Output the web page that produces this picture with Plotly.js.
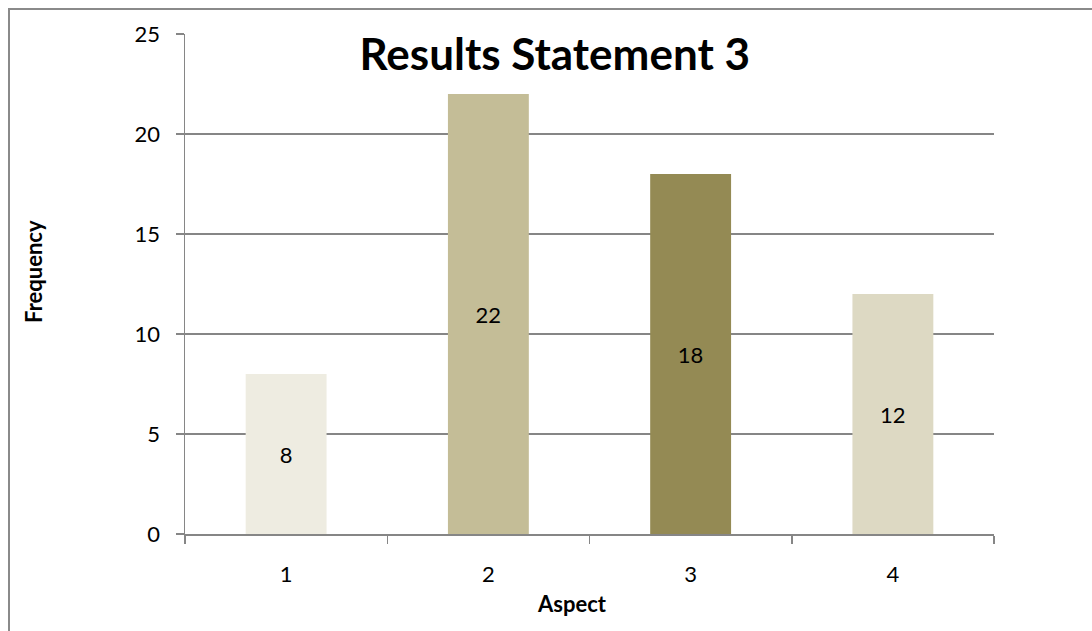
<!DOCTYPE html>
<html>
<head>
<meta charset="utf-8">
<script src="https://cdn.plot.ly/plotly-3.0.1.min.js"></script>
<style>
html,body{margin:0;padding:0;background:#fff;overflow:hidden;}
#frame{position:absolute;left:8px;top:8px;width:1200px;height:700px;border-left:2px solid #8a8a8a;border-top:2px solid #8a8a8a;pointer-events:none;z-index:5;}
#chart{position:absolute;left:0;top:0;width:1092px;height:631px;}
</style>
</head>
<body>
<div id="chart"></div>
<div id="frame"></div>
<script>
const categories = ["1", "2", "3", "4"];
const frequency = [8, 22, 18, 12];
const barColors = ["#EEECE1", "#C4BD97", "#948A54", "#DDD9C3"];
const yTicks = [0, 5, 10, 15, 20, 25];

const FONT = "Lato, 'Open Sans', sans-serif";

const trace = {
  type: "bar",
  x: categories,
  y: frequency,
  marker: {color: barColors, line: {width: 0}},
  text: frequency.map(String),
  textposition: "inside",
  insidetextanchor: "middle",
  textangle: 0,
  textfont: {family: FONT, size: 22, color: "#000"},
  hoverinfo: "x+y"
};

const layout = {
  width: 1092,
  height: 631,
  margin: {l: 185, r: 98, t: 34, b: 97, pad: 0},
  paper_bgcolor: "#fff",
  plot_bgcolor: "#fff",
  showlegend: false,
  bargap: 0.6,
  title: {
    text: "<b>Results Statement 3</b>",
    font: {family: FONT, size: 44, color: "#000"},
    x: 0.508, xanchor: "center",
    y: 0.913, yanchor: "middle", yref: "container"
  },
  xaxis: {
    type: "category",
    tickson: "boundaries",
    ticks: "outside",
    ticklen: 8,
    tickcolor: "#868686",
    tickwidth: 1.5,
    showline: true,
    linecolor: "#868686",
    linewidth: 1.5,
    showgrid: false,
    tickfont: {family: FONT, size: 22, color: "#000"},
    ticklabelstandoff: 20
  },
  yaxis: {
    range: [0, 25],
    tickvals: yTicks,
    ticks: "outside",
    ticklen: 8,
    tickcolor: "#868686",
    tickwidth: 1.5,
    showline: true,
    linecolor: "#868686",
    linewidth: 1.5,
    showgrid: true,
    gridcolor: "#868686",
    gridwidth: 1.5,
    zeroline: false,
    tickfont: {family: FONT, size: 22, color: "#000"},
    ticklabelstandoff: 11
  },
  annotations: [
    {
      text: "<b>Frequency</b>", xref: "paper", yref: "paper",
      x: -0.188, y: 0.526, xanchor: "center", yanchor: "middle",
      textangle: -90, showarrow: false,
      font: {family: FONT, size: 22, color: "#000"}
    },
    {
      text: "<b>Aspect</b>", xref: "paper", yref: "paper",
      x: 0.478, y: -0.138, xanchor: "center", yanchor: "middle",
      showarrow: false,
      font: {family: FONT, size: 22, color: "#000"}
    }
  ]
};

Plotly.newPlot("chart", [trace], layout, {displayModeBar: false, staticPlot: true});
</script>
</body>
</html>
